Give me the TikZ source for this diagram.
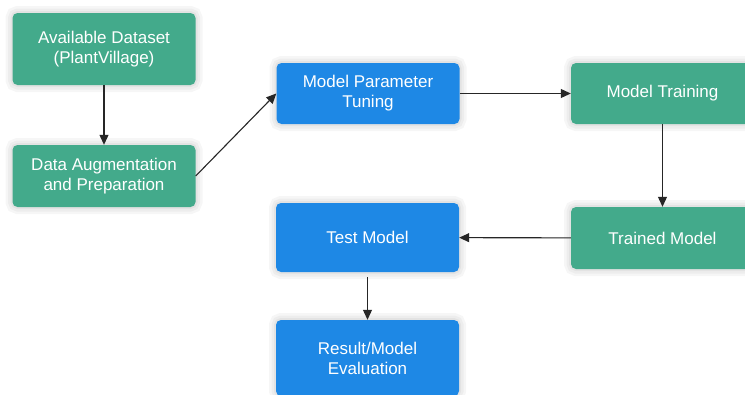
\documentclass[tikz,border=0pt]{standalone}
\usepackage{fontspec}
\setmainfont{Liberation Sans}
\usepackage{tikz}
\usetikzlibrary{arrows.meta}

\definecolor{stepgreen}{RGB}{67,170,139}
\definecolor{stepblue}{RGB}{30,136,229}

\begin{document}
\begin{tikzpicture}[x=1pt, y=-1pt,
  glow/.style={preaction={draw=black, draw opacity=0.035, line width=14pt},
    preaction={draw=black, draw opacity=0.035, line width=9pt},
    preaction={draw=black, draw opacity=0.04, line width=4pt}},
  box/.style={glow, rounded corners=5pt, minimum width=183pt, minimum height=62pt, align=center, text=white,
    font=\fontsize{17}{20}\selectfont},
  greenbox/.style={box, fill=stepgreen},
  bluebox/.style={box, fill=stepblue},
  flow/.style={-{Triangle[width=9pt, length=10pt]}, line width=1.1pt, black!85}]
\useasboundingbox (0,0) rectangle (745,394);
\clip (0,0) rectangle (745,394);
\fill[white] (0,0) rectangle (745,394);
% left column
\node[greenbox, minimum height=72pt] (avail) at (104,49) {Available Dataset\\(PlantVillage)};
\node[greenbox] (aug) at (104,176) {Data Augmentation\\and Preparation};
% middle column
\node[bluebox, minimum height=61pt] (tune) at (368,93.5) {Model Parameter\\Tuning};
\node[bluebox, minimum height=69pt] (test) at (367.5,237.5) {Test Model};
\node[bluebox, minimum height=76pt] (result) at (367.5,358) {Result/Model\\Evaluation};
% right column
\node[greenbox, minimum height=61pt] (train) at (662.5,93.5) {Model Training};
\node[greenbox] (trained) at (662.5,238) {Trained Model};
% arrows
\draw[flow] (avail) -- (aug);
\draw[flow] (aug.east) -- (tune.west);
\draw[flow] (tune) -- (train);
\draw[flow] (train) -- (trained);
\draw[flow] (trained) -- (test);
\draw[flow] ([yshift=-5pt]test.south) -- (result);
\end{tikzpicture}
\end{document}
